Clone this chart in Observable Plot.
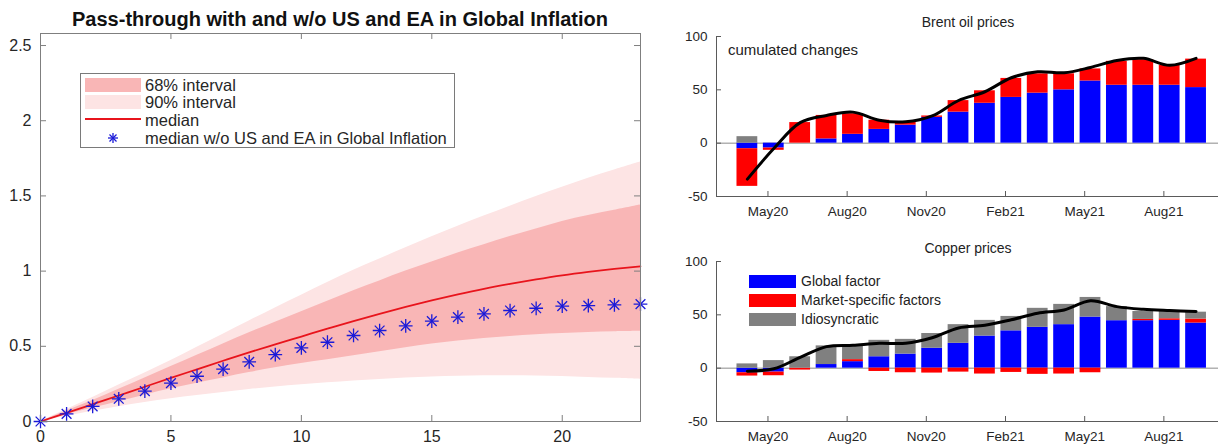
<!DOCTYPE html>
<html><head><meta charset="utf-8">
<script src="https://cdn.jsdelivr.net/npm/d3@7"></script>
<script src="https://cdn.jsdelivr.net/npm/@observablehq/plot@0.6"></script>
<style>
body{margin:0;background:#fff;}
#wrap{position:relative;width:1218px;height:444px;overflow:hidden;font-family:"Liberation Sans",Arial,sans-serif;color:#262626;}
.abs{position:absolute;white-space:nowrap;}
.sw{position:absolute;}
</style></head><body>
<div id="wrap">
  <div id="left" class="abs" style="left:0;top:0"></div>
  <div id="oil" class="abs" style="left:660px;top:0"></div>
  <div id="cu" class="abs" style="left:660px;top:220px"></div>
  <div id="ltitle" class="abs" style="left:40px;width:600px;top:8px;text-align:center;font-weight:bold;font-size:20px;line-height:23px;color:#111">Pass-through with and w/o US and EA in Global Inflation</div>
  <div id="llegend" class="abs" style="left:80px;top:73px;width:373px;height:73px;border:1px solid #7a7a7a;background:#fff;font-size:16.5px;"></div>
  <div class="abs" style="left:860px;width:216px;top:13px;text-align:center;font-size:14px;line-height:18px;color:#222">Brent oil prices</div>
  <div class="abs" style="left:728px;top:41px;font-size:15px;line-height:18px;color:#222">cumulated changes</div>
  <div class="abs" style="left:860px;width:216px;top:239px;text-align:center;font-size:14px;line-height:18px;color:#222">Copper prices</div>
  <div id="rlegend" class="abs" style="left:749px;top:272px;width:200px;height:60px;font-size:14px;"></div>
</div>
<script>
// ---------- Left panel data: pass-through by horizon ----------
const horizon = [0,1,2,3,4,5,6,7,8,9,10,11,12,13,14,15,16,17,18,19,20,21,22,23];
const median = [0,0.057,0.115,0.173,0.231,0.29,0.347,0.404,0.46,0.513,0.565,0.617,0.668,0.716,0.762,0.805,0.845,0.882,0.915,0.945,0.972,0.995,1.015,1.032];
const medianNoUSEA = [0,0.051,0.1,0.151,0.202,0.255,0.301,0.348,0.397,0.445,0.49,0.527,0.572,0.605,0.636,0.667,0.694,0.716,0.738,0.753,0.767,0.771,0.776,0.78];
const hi68 = [0,0.07,0.14,0.215,0.29,0.365,0.44,0.515,0.59,0.66,0.73,0.8,0.87,0.935,1.0,1.06,1.12,1.175,1.23,1.28,1.33,1.37,1.405,1.44];
const lo68 = [0,0.045,0.09,0.132,0.175,0.217,0.255,0.29,0.325,0.357,0.385,0.41,0.437,0.464,0.49,0.515,0.535,0.552,0.565,0.577,0.585,0.592,0.597,0.6];
const hi90 = [0,0.08,0.16,0.242,0.323,0.405,0.493,0.58,0.668,0.755,0.84,0.925,1.005,1.08,1.155,1.228,1.298,1.366,1.432,1.496,1.558,1.617,1.672,1.725];
const lo90 = [0,0.035,0.068,0.098,0.126,0.151,0.173,0.193,0.212,0.229,0.244,0.257,0.269,0.28,0.289,0.296,0.301,0.304,0.305,0.303,0.299,0.293,0.287,0.28];
const leftYTicks = [0,0.5,1,1.5,2,2.5];
const leftXTicks = [0,5,10,15,20];

// ---------- Right panels data: monthly decomposition ----------
const months = ["Apr20","May20","Jun20","Jul20","Aug20","Sep20","Oct20","Nov20","Dec20","Jan21","Feb21","Mar21","Apr21","May21","Jun21","Jul21","Aug21","Sep21"];
const seriesNames = ["Global factor","Market-specific factors","Idiosyncratic"];
const seriesColors = ["#0000ff","#ff0000","#808080"];

const oilGlobal = [-5.2,-4.6,0,4,8.3,12.9,16.9,24.2,29.1,37.4,42.9,46.9,50,58.3,54.3,54.3,54.3,52.1];
const oilMarket = [-35.3,-2.1,19.3,22,19.3,8.6,3.1,1.3,10.8,11.7,17.8,18.1,15,11.3,22.4,23.9,18.7,26.7];
const oilIdio   = [6.1,0,0,0,0,0,0,0,0,0,0,0,0,0,0,0,0,0];
const oilTotal  = [-33.7,-5,19.3,26,29.1,21.5,20,25.5,40,48.2,61.3,66.9,66,71,77.5,79.5,73,79.5];

const cuGlobal = [-4.3,-3.7,0,3.4,6.1,10.7,13.2,18.7,23.3,30.1,35,38.3,40.8,47.9,44.5,44.5,44.8,42.3];
const cuMarket = [-3.1,-3.4,-1.8,0,1.9,-3.1,-4.3,-4.6,-3.7,-5.5,-4,-5.8,-5.5,-4.3,0,1.2,1.5,3.7];
const cuIdio   = [4,7.1,10.7,17.5,12.9,15.4,13.8,13.8,17.5,14.7,13.5,17.8,19,18.4,13.2,7.4,6.8,6.5];
const cuTotal  = [-2.8,-0.6,10.1,20.2,21.5,23.3,23.3,28.5,37.7,40.2,45.4,51.5,54.6,63.2,57.7,55.2,54,53.1];

const tickMonths = ["May20","Aug20","Nov20","Feb21","May21","Aug21"];
const rightYTicks = [-50,0,50,100];

const plain = d => String(d);

// ---------- Left panel ----------
const leftData = horizon.map((h,k)=>({h, med:median[k], alt:medianNoUSEA[k], lo68:lo68[k], hi68:hi68[k], lo90:lo90[k], hi90:hi90[k]}));
const frameCol = "#7f7f7f";
const LW = 660, LH = 444, LML = 40, LMR = 20, LMT = 33, LMB = 23;
const lfw = LW-LML-LMR, lfh = LH-LMT-LMB;
const leftPlot = Plot.plot({
  width: LW, height: LH, marginLeft: LML, marginRight: LMR, marginTop: LMT, marginBottom: LMB,
  x: {domain:[0,23]}, y: {domain:[0,2.58]},
  style: {fontFamily:"Liberation Sans, Arial, sans-serif", fontSize:"16px", color:"#262626", background:"transparent", overflow:"visible"},
  marks: [
    Plot.areaY(leftData, {x:"h", y1:"lo90", y2:"hi90", fill:"#fde4e4", curve:"catmull-rom"}),
    Plot.areaY(leftData, {x:"h", y1:"lo68", y2:"hi68", fill:"#f9b6b6", curve:"catmull-rom"}),
    Plot.lineY(leftData, {x:"h", y:"med", stroke:"#e8141c", strokeWidth:1.8, curve:"catmull-rom"}),
    Plot.dot(leftData, {x:"h", y:"alt", symbol:"plus", stroke:"#1a1ad8", r:4.5, strokeWidth:1.3}),
    Plot.dot(leftData, {x:"h", y:"alt", symbol:"times", stroke:"#1a1ad8", r:4.5, strokeWidth:1.3}),
    Plot.frame({stroke:frameCol}),
    Plot.tickY(leftYTicks, {y:d=>d, stroke:frameCol, insetRight:lfw-6}),
    Plot.tickY(leftYTicks, {y:d=>d, stroke:frameCol, insetLeft:lfw-6}),
    Plot.tickX(leftXTicks, {x:d=>d, stroke:frameCol, insetTop:lfh-6}),
    Plot.tickX(leftXTicks, {x:d=>d, stroke:frameCol, insetBottom:lfh-6}),
    Plot.axisY(leftYTicks, {tickSize:0, tickPadding:9, fontSize:16, label:null, tickFormat:plain}),
    Plot.axisX(leftXTicks, {tickSize:0, tickPadding:9, fontSize:16, label:null, tickFormat:plain})
  ]
});
document.getElementById("left").appendChild(leftPlot);

// Left legend (HTML)
const lg = document.getElementById("llegend");
lg.innerHTML = `
  <div class="sw" style="left:4px;top:4px;width:56px;height:14px;background:#f9b6b6"></div>
  <div class="abs" style="left:64px;top:2px;line-height:18px">68% interval</div>
  <div class="sw" style="left:4px;top:21px;width:56px;height:14px;background:#fde4e4"></div>
  <div class="abs" style="left:64px;top:19px;line-height:18px">90% interval</div>
  <div class="sw" style="left:4px;top:44px;width:56px;height:2px;background:#e8141c"></div>
  <div class="abs" style="left:64px;top:37px;line-height:18px">median</div>
  <svg class="abs" style="left:24px;top:56px" width="16" height="16"><g stroke="#1a1ad8" stroke-width="1.3"><line x1="8" y1="3" x2="8" y2="13"/><line x1="3" y1="8" x2="13" y2="8"/><line x1="4.5" y1="4.5" x2="11.5" y2="11.5"/><line x1="11.5" y1="4.5" x2="4.5" y2="11.5"/></g></svg>
  <div class="abs" style="left:64px;top:55px;line-height:18px">median w/o US and EA in Global Inflation</div>`;

// ---------- Right panels ----------
const xDomain = [-0.67, 18.35];
const tickPos = tickMonths.map(m => months.indexOf(m) + 0.28);
const labelAt = new Map(tickPos.map((p,k)=>[p, tickMonths[k]]));

function rows(g, m, s) {
  const out = [];
  months.forEach((mo,i) => {
    out.push({i, s:seriesNames[0], v:g[i]});
    out.push({i, s:seriesNames[1], v:m[i]});
    out.push({i, s:seriesNames[2], v:s[i]});
  });
  return out;
}

function barPanel(el, data, total, height, mt, mb) {
  const W = 558, ML = 56, MR = 0;
  const fw = W-ML-MR, fh = height-mt-mb;
  const lineData = months.map((mo,i)=>({i, v: total[i]}));
  const axCol = "#5a5a5a";
  const p = Plot.plot({
    width: W, height, marginLeft: ML, marginRight: MR, marginTop: mt, marginBottom: mb,
    x: {domain: xDomain}, y: {domain: [-50,100]},
    color: {domain: seriesNames, range: seriesColors},
    style: {fontFamily:"Liberation Sans, Arial, sans-serif", fontSize:"13.5px", color:"#262626", background:"transparent", overflow:"visible"},
    marks: [
      Plot.ruleY([0], {stroke:"#8a8a8a", strokeWidth:1}),
      Plot.rectY(data, {x:"i", interval:1, y:"v", fill:"s", insetLeft:2.8, insetRight:2.8}),
      Plot.lineY(lineData, {x:d=>d.i+0.5, y:"v", stroke:"#000", strokeWidth:3, curve:"catmull-rom"}),
      Plot.ruleX([xDomain[0]], {stroke:axCol}),
      Plot.ruleY([-50], {stroke:axCol}),
      Plot.tickY(rightYTicks, {y:d=>d, stroke:axCol, insetRight:fw-5}),
      Plot.tickX(tickPos, {x:d=>d, stroke:axCol, insetTop:fh-5}),
      Plot.axisY(rightYTicks, {tickSize:0, tickPadding:9, fontSize:13.5, label:null, tickFormat:plain}),
      Plot.axisX(tickPos, {tickSize:0, tickPadding:10, fontSize:13.5, label:null, tickFormat:d=>labelAt.get(d)})
    ]
  });
  document.getElementById(el).appendChild(p);
}
barPanel("oil", rows(oilGlobal, oilMarket, oilIdio), oilTotal, 220, 36, 24);
barPanel("cu", rows(cuGlobal, cuMarket, cuIdio), cuTotal, 224, 41, 23);

// Right legend (HTML)
const rl = document.getElementById("rlegend");
rl.innerHTML = seriesNames.map((n,k)=>`
  <div class="sw" style="left:0;top:${3+k*19}px;width:47px;height:13px;background:${seriesColors[k]}"></div>
  <div class="abs" style="left:52px;top:${1+k*19}px;line-height:17px;color:#222">${n}</div>`).join("");
</script>
</body></html>
